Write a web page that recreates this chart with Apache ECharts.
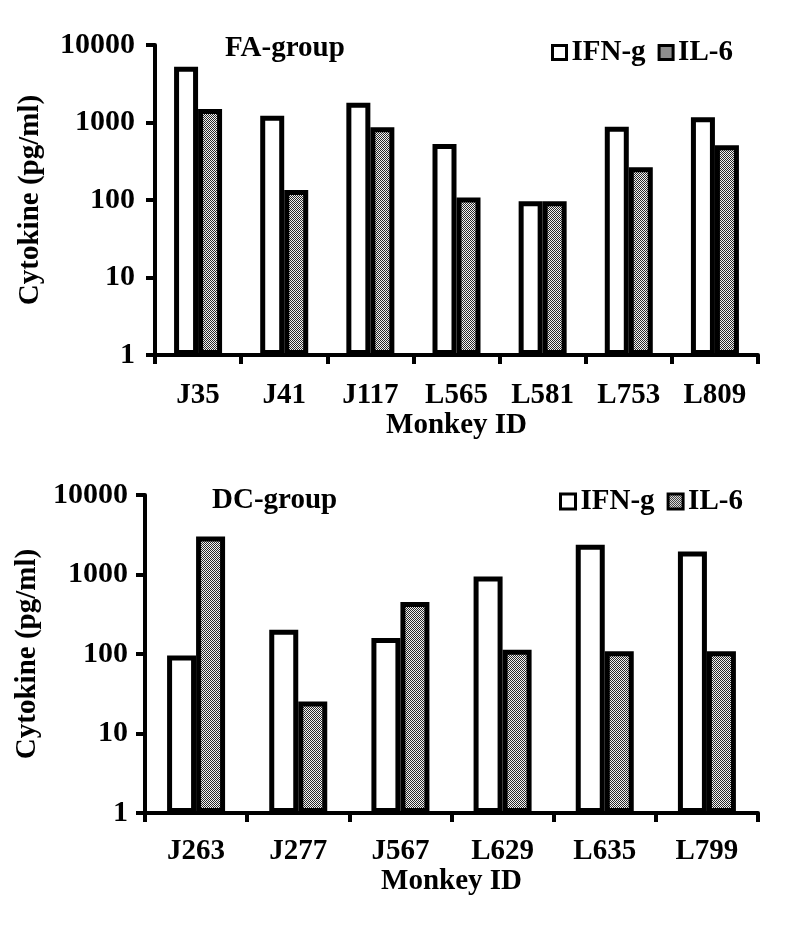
<!DOCTYPE html>
<html><head><meta charset="utf-8">
<script src="https://cdn.jsdelivr.net/npm/echarts@6/dist/echarts.min.js"></script>
<style>html,body{margin:0;padding:0;background:#fff}#c{width:800px;height:935px}</style>
</head><body><div id="c"></div>
<script>
// Top panel (FA-group)
const faCategories = ['J35','J41','J117','L565','L581','L753','L809'];
const faIFN = [5250, 1225, 1800, 528, 96, 883, 1167];
const faIL6 = [1490, 135, 867, 108, 96, 264, 508];
// Bottom panel (DC-group)
const dcCategories = ['J263','J277','J567','L629','L635','L799'];
const dcIFN = [96, 202, 159, 946, 2370, 1950];
const dcIL6 = [3015, 25.3, 451, 113, 108, 108];
const yTicks = [1, 10, 100, 1000, 10000];

const FONT = '"Liberation Serif", "Times New Roman", serif';
function makePattern(){
  const cv = document.createElement('canvas');
  cv.width = 2; cv.height = 2;
  const ctx = cv.getContext('2d');
  ctx.fillStyle = '#f2f2f2'; ctx.fillRect(0,0,2,2);
  ctx.fillStyle = '#2a2a2a'; ctx.fillRect(0,0,1,1); ctx.fillRect(1,1,1,1);
  return cv;
}
const pat = {image: makePattern(), repeat: 'repeat'};

const txt = {fontFamily: FONT, fontWeight: 'bold', fontSize: 29, color: '#000'};
const tickTxt = Object.assign({}, txt, {fontSize: 30});
const axisLine = {show: true, lineStyle: {color: '#000', width: 4}};

function xAxis(idx, cats, margin, gap){
  return {type: 'category', gridIndex: idx, data: cats, boundaryGap: true,
    axisLine: axisLine, axisTick: {show: true, length: 9, lineStyle: {color: '#000', width: 4}},
    axisLabel: Object.assign({margin: margin}, txt),
    name: 'Monkey ID', nameLocation: 'middle', nameGap: gap, nameTextStyle: txt};
}
function yAxis(idx, margin, gap){
  return {type: 'log', logBase: 10, gridIndex: idx, min: yTicks[0], max: yTicks[yTicks.length-1],
    axisLine: axisLine, axisTick: {show: true, length: 9, lineStyle: {color: '#000', width: 4}},
    splitLine: {show: false}, minorTick: {show: false},
    axisLabel: Object.assign({margin: margin, formatter: v => String(Math.round(v))}, tickTxt),
    name: 'Cytokine (pg/ml)', nameLocation: 'middle', nameGap: gap, nameRotate: 90, nameTextStyle: txt};
}
const ifnStyle = {color: '#fff', borderColor: '#000', borderWidth: 5};
const il6Style = {color: pat, borderColor: '#000', borderWidth: 5};
const legIFN = {color: '#fff', borderColor: '#000', borderWidth: 3};
const legIL6 = {color: pat, borderColor: '#000', borderWidth: 3};

const chart = echarts.init(document.getElementById('c'), null, {renderer: 'canvas'});
chart.setOption({
  animation: false,
  backgroundColor: '#fff',
  title: [
    {text: 'FA-group', left: 220, top: 29, textStyle: txt},
    {text: 'DC-group', left: 207, top: 481, textStyle: txt}
  ],
  legend: [
    {data: [{name: 'IFN-g', icon: 'rect', itemStyle: legIFN}, {name: 'IL-6', icon: 'rect', itemStyle: legIL6}],
     left: 546, top: 33, itemWidth: 14, itemHeight: 14, itemGap: 12, textStyle: txt},
    {data: [{name: 'IFN-g B', icon: 'rect', itemStyle: legIFN}, {name: 'IL-6 B', icon: 'rect', itemStyle: legIL6}],
     left: 554, top: 482, itemWidth: 15, itemHeight: 15, itemGap: 12, textStyle: txt,
     formatter: n => n.replace(' B','')}
  ],
  grid: [
    {left: 155, top: 45, width: 603, height: 310},
    {left: 145, top: 495, width: 613, height: 318}
  ],
  xAxis: [xAxis(0, faCategories, 26, 50), xAxis(1, dcCategories, 24, 53)],
  yAxis: [yAxis(0, 20, 110), yAxis(1, 17, 100)],
  series: [
    {name: 'IFN-g', type: 'bar', xAxisIndex: 0, yAxisIndex: 0, data: faIFN, barWidth: 24, barGap: '0%', itemStyle: ifnStyle},
    {name: 'IL-6', type: 'bar', xAxisIndex: 0, yAxisIndex: 0, data: faIL6, barWidth: 24, barGap: '0%', itemStyle: il6Style},
    {name: 'IFN-g B', type: 'bar', xAxisIndex: 1, yAxisIndex: 1, data: dcIFN, barWidth: 29, barGap: '0%', itemStyle: ifnStyle},
    {name: 'IL-6 B', type: 'bar', xAxisIndex: 1, yAxisIndex: 1, data: dcIL6, barWidth: 29, barGap: '0%', itemStyle: il6Style}
  ]
});
</script></body></html>
